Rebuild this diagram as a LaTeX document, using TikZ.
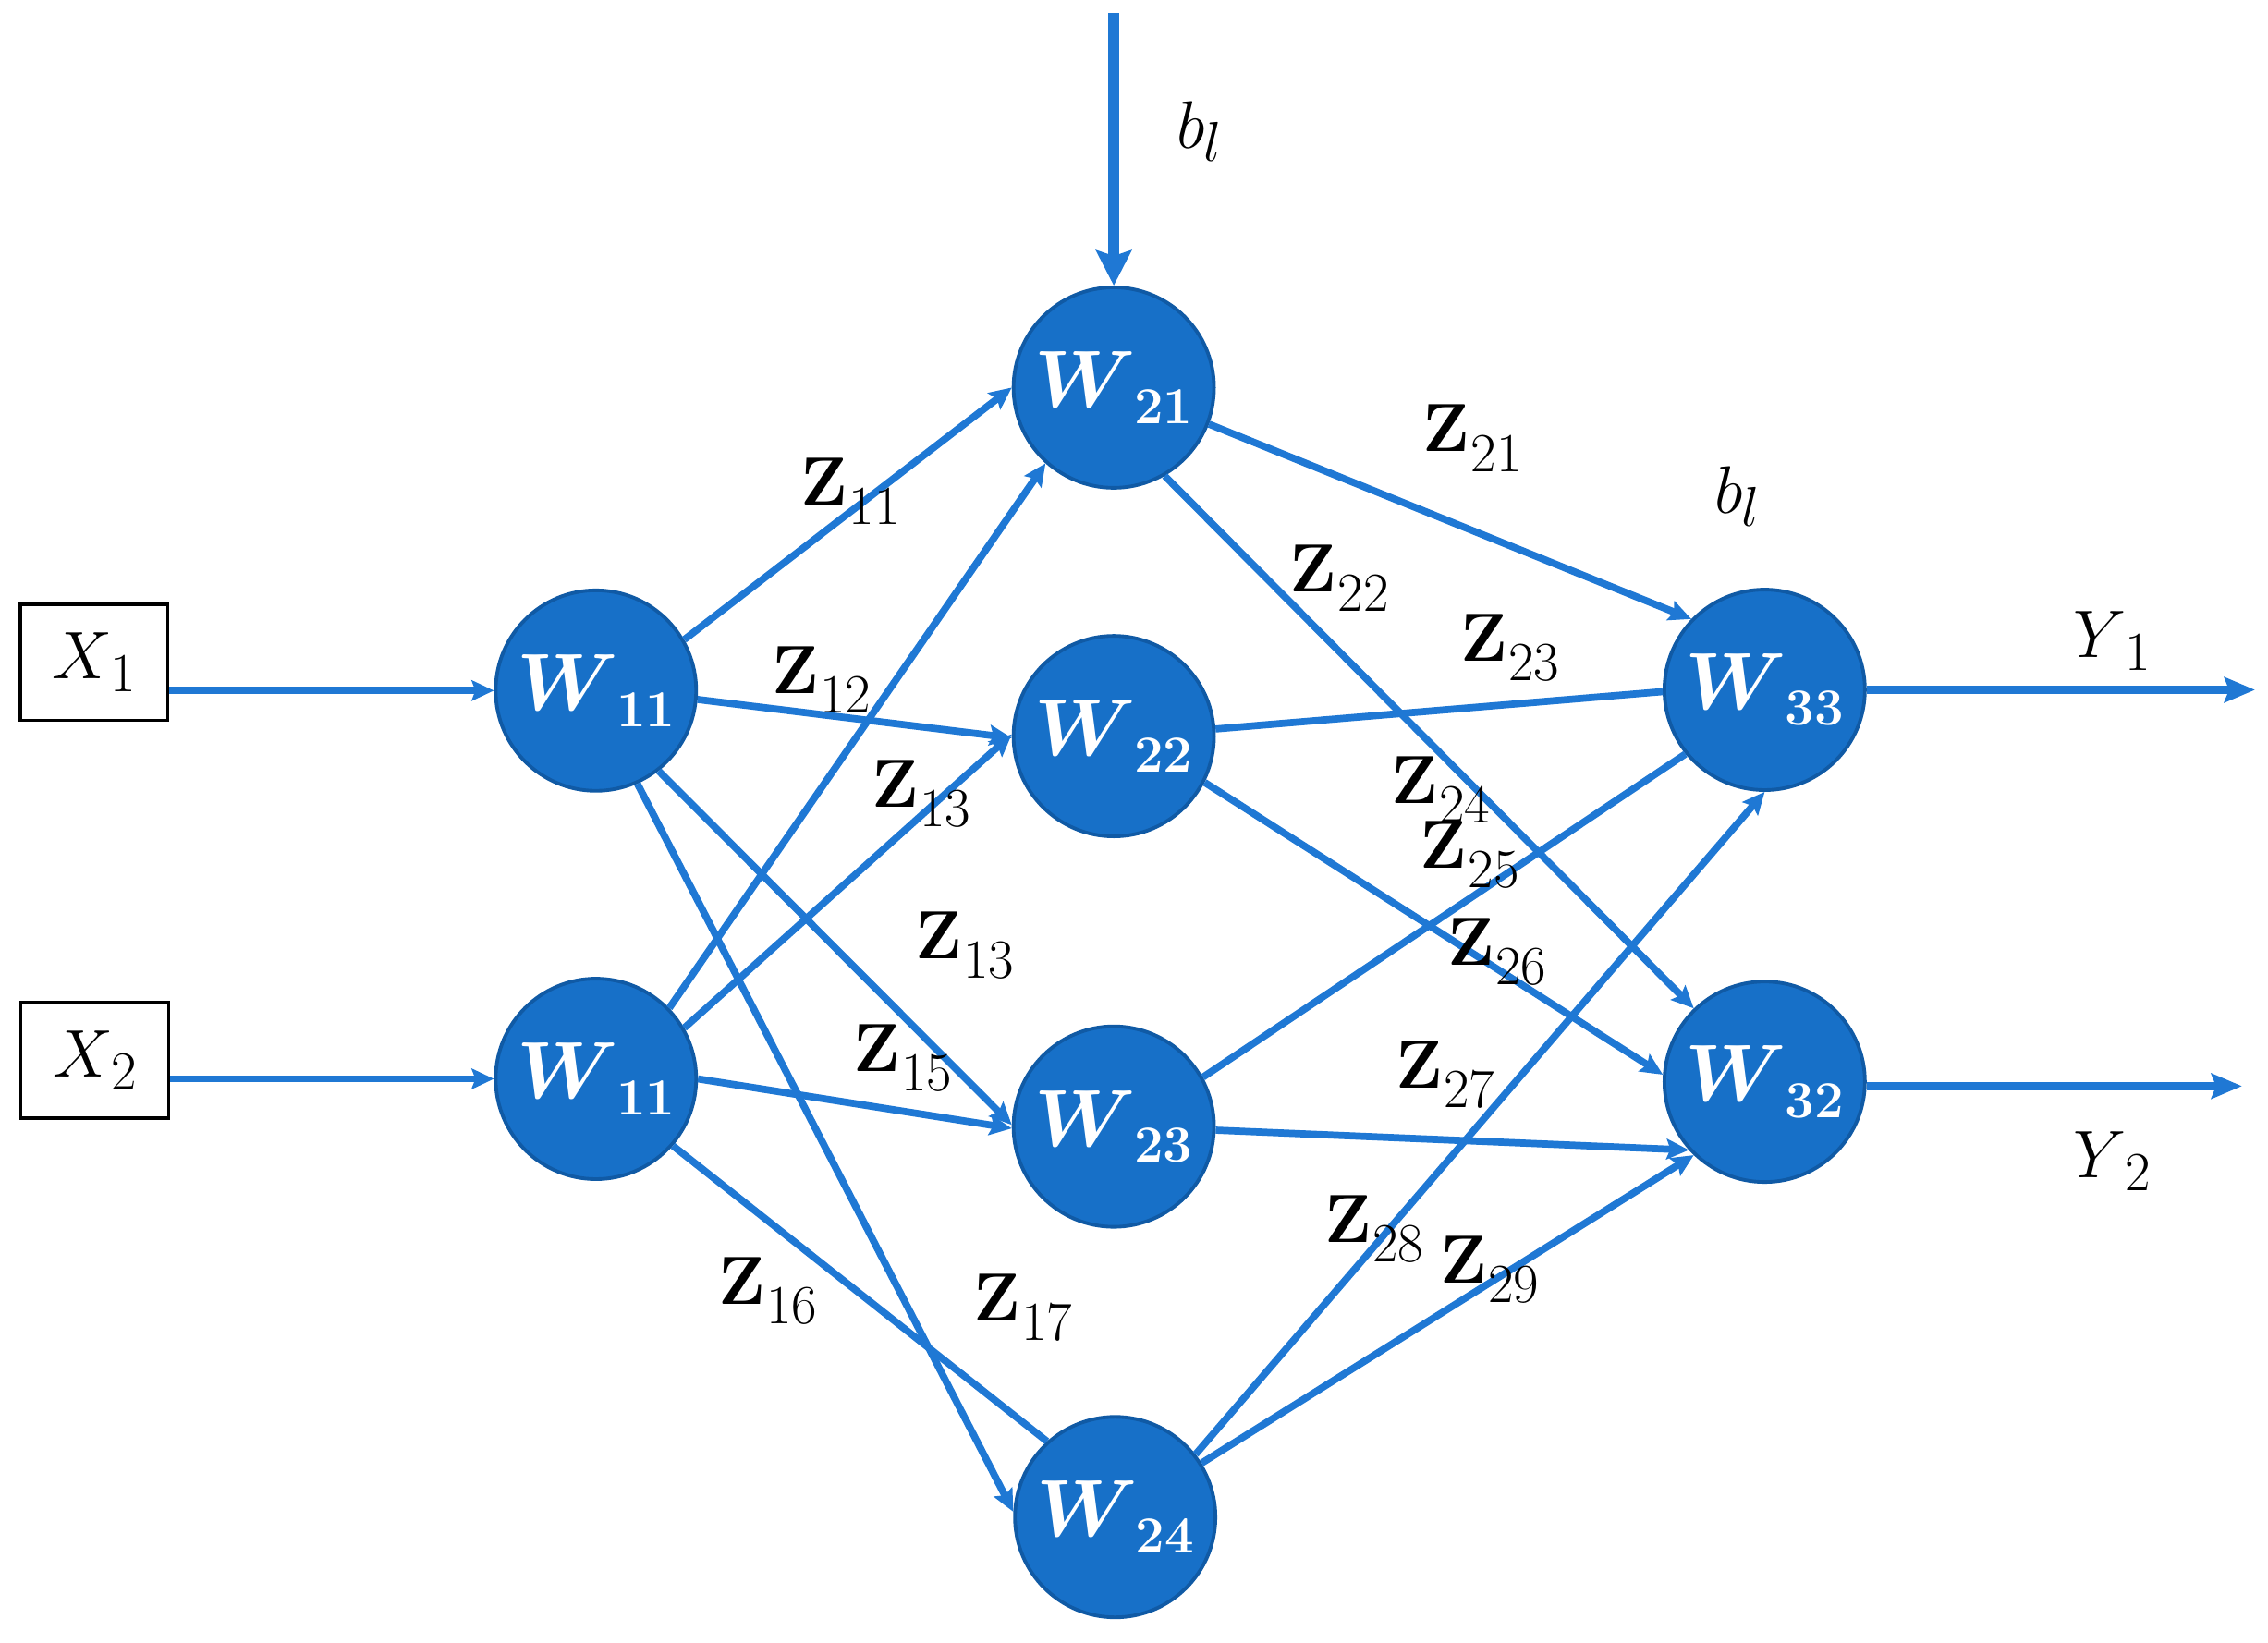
\documentclass[tikz,border=0pt]{standalone}
\usetikzlibrary{arrows.meta}
\definecolor{nfill}{RGB}{23,112,200}
\definecolor{nborder}{RGB}{16,90,165}
\definecolor{lcol}{RGB}{31,120,212}
\newcommand\zl[1]{\textbf{Z}\kern0.3pt\raisebox{-6pt}{\fontsize{17}{17}\selectfont #1}}
\newcommand\wl[1]{{\boldmath$W$}\kern-0.5pt\raisebox{-5pt}{\fontsize{16}{16}\selectfont\bfseries #1}}
\newcommand\ml[2]{$#1$\kern-0.5pt\raisebox{-4pt}{\fontsize{17}{17}\selectfont #2}}
\begin{document}
\begin{tikzpicture}[x=0.015651cm, y=-0.015651cm,
  neuron/.style={circle, fill=nfill, draw=nborder, line width=1.1pt, minimum size=2.17cm, inner sep=0pt, font=\fontsize{23}{26}\selectfont, text=white},
  inbox/.style={draw=black, line width=1pt, minimum width=1.596cm, minimum height=1.252cm, inner sep=0pt, font=\fontsize{22}{25}\selectfont},
  conn/.style={lcol, line width=2.2pt},
  arr/.style={conn, -{Stealth[length=0.24cm,width=0.22cm,inset=0.04cm]}},
  zlab/.style={inner sep=0pt, font=\fontsize{21}{24}\selectfont},
  mlab/.style={inner sep=0pt, font=\fontsize{22}{25}\selectfont}]
\useasboundingbox (0,0) rectangle (1568,1136);
% nodes
\node[inbox] (x1) at (65,458) {\ml{X}{1}};
\node[inbox] (x2) at (65.5,733) {\ml{X}{2}};
\node[neuron] (a) at (412,477.5) {\wl{11}};
\node[neuron] (b) at (412,746) {\wl{11}};
\node[neuron] (c1) at (770,268) {\wl{21}};
\node[neuron] (c2) at (770,509) {\wl{22}};
\node[neuron] (c3) at (770,779) {\wl{23}};
\node[neuron] (c4) at (771,1049) {\wl{24}};
\node[neuron] (d1) at (1220,477) {\wl{33}};
\node[neuron] (d2) at (1220,748) {\wl{32}};
\coordinate (btop) at (770,9);
\coordinate (y1e) at (1559,477);
\coordinate (y2e) at (1550,751);
% input / output arrows
\draw[conn, line width=3.4pt, -{Stealth[length=0.38cm,width=0.38cm,inset=0.06cm]}] (btop) -- (c1.north);
\draw[arr] (x1.east |- a.west) -- (a.west);
\draw[arr] (x2.east |- b.west) -- (b.west);
\draw[conn, line width=2.5pt, -{Stealth[length=0.33cm,width=0.27cm,inset=0.05cm]}] (d1.east |- y1e) -- (y1e);
\draw[conn, line width=2.5pt, -{Stealth[length=0.33cm,width=0.27cm,inset=0.05cm]}] (d2.east |- y2e) -- (y2e);
% layer 1 -> layer 2
\draw[arr] (a.30) -- (c1.180);
\draw[arr] (a.-5) -- (c2.181);
\draw[arr] (a.-52) -- (c3.179);
\draw[arr] (a.-66) -- (c4.177);
\draw[arr] (b.44) -- (c1.228);
\draw[arr] (b.30) -- (c2.179);
\draw[arr] (b.0) -- (c3.181);
\draw[conn] (b.-41) -- (c4.132);
% layer 2 -> layer 3
\draw[arr] (c1.-21) -- (d1.136);
\draw[arr] (c1.-60) -- (d2.134);
\draw[conn] (c2.4) -- (d1.181);
\draw[arr] (c2.-27) -- (d2.176);
\draw[conn] (c3.29) -- (d1.219);
\draw[arr] (c3.-2) -- (d2.222);
\draw[arr] (c4.38) -- (d1.-90);
\draw[arr] (c4.32) -- (d2.226);
% labels
\node[mlab] (bl1) at (829,91) {\ml{b}{$l$}};
\node[mlab] (bl2) at (1201,343) {\ml{b}{$l$}};
\node[mlab] (ly1) at (1460,443) {\ml{Y}{1}};
\node[mlab] (ly2) at (1460,803) {\ml{Y}{2}};
\node[zlab] (z11) at (588,340) {\zl{11}};
\node[zlab] (z12) at (568,470) {\zl{12}};
\node[zlab] (z13a) at (637,549) {\zl{13}};
\node[zlab] (z13b) at (667,654) {\zl{13}};
\node[zlab] (z15) at (624,732) {\zl{15}};
\node[zlab] (z16) at (531,893) {\zl{16}};
\node[zlab] (z17) at (707,904) {\zl{17}};
\node[zlab] (z21) at (1018,303) {\zl{21}};
\node[zlab] (z22) at (926,400) {\zl{22}};
\node[zlab] (z23) at (1044,448) {\zl{23}};
\node[zlab] (z24) at (996,546) {\zl{24}};
\node[zlab] (z25) at (1016,591) {\zl{25}};
\node[zlab] (z26) at (1035,658) {\zl{26}};
\node[zlab] (z27) at (999,743) {\zl{27}};
\node[zlab] (z28) at (950,850) {\zl{28}};
\node[zlab] (z29) at (1030,878) {\zl{29}};
\end{tikzpicture}
\end{document}
